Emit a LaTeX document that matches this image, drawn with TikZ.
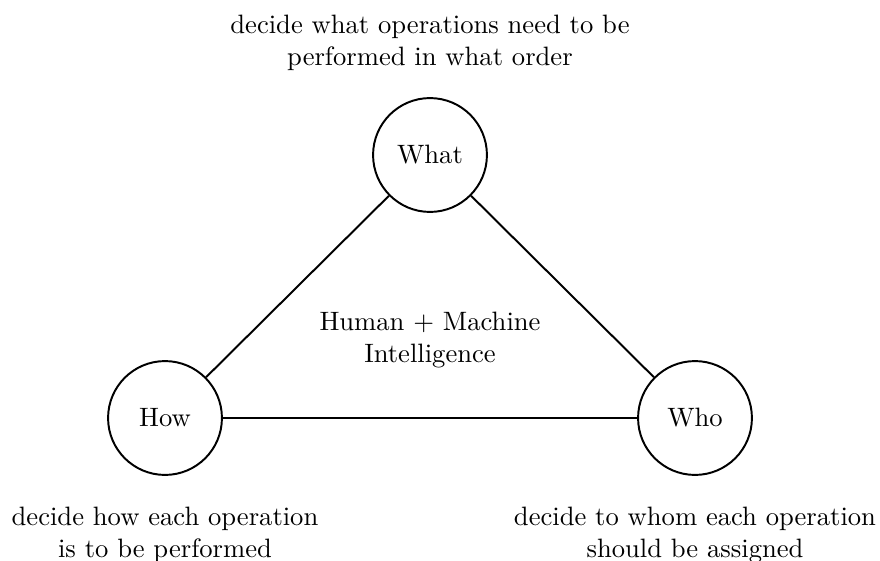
\documentclass[tikz,border=0pt]{standalone}
\usetikzlibrary{positioning}

\begin{document}
\begin{tikzpicture}[
    x=0.0144cm, y=-0.0144cm,
    font=\fontsize{10.9}{13.1}\selectfont,
    role/.style={draw, circle, thick, minimum size=1.64cm, inner sep=0pt},
    note/.style={align=center},
    link/.style={thick}]
  \useasboundingbox (0,0) rectangle (880,561);
  % the three questions
  \node[role] (what) at (430,155) {What};
  \node[role] (how) at (165,418) {How};
  \node[role] (who) at (695,418) {Who};
  \draw[link] (what) -- (how);
  \draw[link] (what) -- (who);
  \draw[link] (how) -- (who);
  % what each one decides
  \node[note, above=0.25cm of what] (whatnote) {decide what operations need to be\\performed in what order};
  \node[note, below=0.33cm of how] (hownote) {decide how each operation\\is to be performed};
  \node[note, below=0.33cm of who] (whonote) {decide to whom each operation\\should be assigned};
  \node[note] (core) at (430,340) {Human $+$ Machine\\Intelligence};
\end{tikzpicture}
\end{document}
